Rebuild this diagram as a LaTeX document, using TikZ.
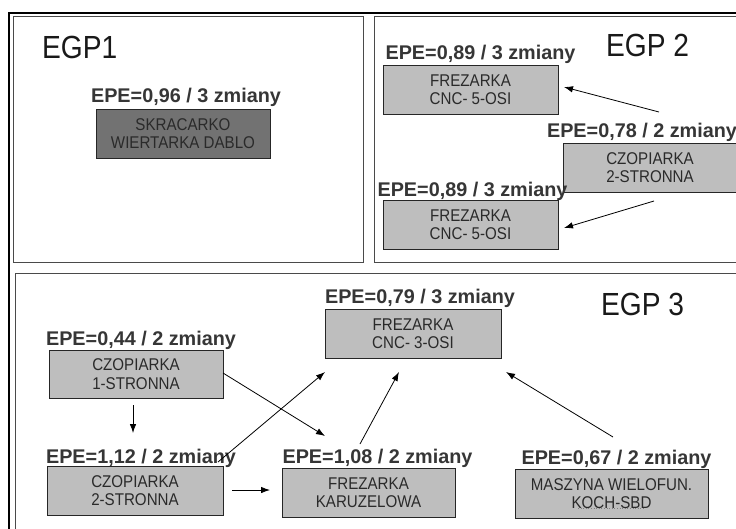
\documentclass[tikz,border=0pt]{standalone}
\usepackage{fontspec}
\setmainfont{Liberation Sans}
\newfontfamily\titlefont{Liberation Sans}[FakeStretch=0.88]
\newfontfamily\boxfont{Liberation Sans}[FakeStretch=0.89]
\usetikzlibrary{arrows.meta}
\definecolor{boxgray}{HTML}{BEBEBE}
\definecolor{darkbox}{HTML}{727272}
\definecolor{panelgray}{HTML}{4A4A4A}
\definecolor{textgray}{HTML}{2A2A2A}
\definecolor{labelgray}{HTML}{363636}
\begin{document}
\begin{tikzpicture}[x=1pt,y=-1pt,
  panel/.style={draw=panelgray, line width=0.9pt},
  machine/.style={draw=black!85, fill=boxgray, line width=0.8pt, minimum width=174pt, minimum height=49pt, inner sep=0pt, align=center, font=\boxfont\fontsize{17}{18.5}\selectfont, text=textgray},
  epe/.style={font=\bfseries\fontsize{19.8}{22}\selectfont, text=labelgray, anchor=base, inner sep=0pt},
  title/.style={font=\titlefont\fontsize{32}{36}\selectfont, text=black!90, anchor=base west, inner sep=0pt},
  arr/.style={-{Latex[length=9pt,width=6.5pt]}, line width=0.8pt}]
\useasboundingbox (0,0) rectangle (736,528);
\clip (0,0) rectangle (736,528);
\fill[white] (0,0) rectangle (736,528);
% outer frame and panels
\draw[line width=2.5pt] (9,13) rectangle (760,560);
\draw[panel] (13,16) rectangle (363,262);
\draw[panel] (374,16) rectangle (760,262);
\draw[panel] (15,273) rectangle (760,560);
% titles
\node[title] (t1) at (42,58) {EGP1};
\node[title] (t2) at (606,56) {EGP 2};
\node[title] (t3) at (601,315) {EGP 3};
% EGP1
\node[machine, fill=darkbox] (b1) at (183,133.5) {SKRACARKO\\WIERTARKA DABLO};
\node[epe] (l1) at (186,102) {EPE=0,96 / 3 zmiany};
% EGP2
\node[machine, minimum width=175pt] (b2) at (470.5,89.5) {FREZARKA\\CNC- 5-OSI};
\node[epe] (l2) at (480.5,59) {EPE=0,89 / 3 zmiany};
\node[machine] (b3) at (650,167.5) {CZOPIARKA\\2-STRONNA};
\node[epe] (l3) at (642,137) {EPE=0,78 / 2 zmiany};
\node[machine, minimum width=175pt] (b4) at (470.5,224.5) {FREZARKA\\CNC- 5-OSI};
\node[epe] (l4) at (472.5,196) {EPE=0,89 / 3 zmiany};
% EGP3
\node[machine, minimum width=176pt] (b5) at (413,333.5) {FREZARKA\\CNC- 3-OSI};
\node[epe] (l5) at (420,303) {EPE=0,79 / 3 zmiany};
\node[machine, minimum height=48pt] (b6) at (136,374) {CZOPIARKA\\1-STRONNA};
\node[epe] (l6) at (141,345) {EPE=0,44 / 2 zmiany};
\node[machine, minimum width=176pt] (b7) at (135,490.5) {CZOPIARKA\\2-STRONNA};
\node[epe] (l7) at (141,463) {EPE=1,12 / 2 zmiany};
\node[machine, minimum width=173pt] (b8) at (368.5,492.5) {FREZARKA\\KARUZELOWA};
\node[epe] (l8) at (377.5,463) {EPE=1,08 / 2 zmiany};
\node[machine, minimum width=193pt] (b9) at (611.5,493.5) {MASZYNA WIELOFUN.\\KOCH-SBD};
\node[epe] (l9) at (616.5,464) {EPE=0,67 / 2 zmiany};
\draw[gray, dotted, line width=0.6pt] (578,508) -- (645,508);
% arrow end points
\coordinate (a1s) at (659,112); \coordinate (a1e) at (564,87);
\coordinate (a2s) at (654,201); \coordinate (a2e) at (564,228);
\coordinate (a3s) at (133,405); \coordinate (a3e) at (133,433);
\coordinate (a4s) at (223,373); \coordinate (a4e) at (325,436);
\coordinate (a5s) at (218,462); \coordinate (a5e) at (325,372);
\coordinate (a6s) at (232,490); \coordinate (a6e) at (270,490);
\coordinate (a7s) at (360,444); \coordinate (a7e) at (399,372);
\coordinate (a8s) at (613,437); \coordinate (a8e) at (506,372);
\draw[arr] (a1s) -- (a1e);
\draw[arr] (a2s) -- (a2e);
\draw[arr] (a3s) -- (a3e);
\draw[arr] (a4s) -- (a4e);
\draw[arr] (a5s) -- (a5e);
\draw[arr] (a6s) -- (a6e);
\draw[arr] (a7s) -- (a7e);
\draw[arr] (a8s) -- (a8e);
\end{tikzpicture}
\end{document}
